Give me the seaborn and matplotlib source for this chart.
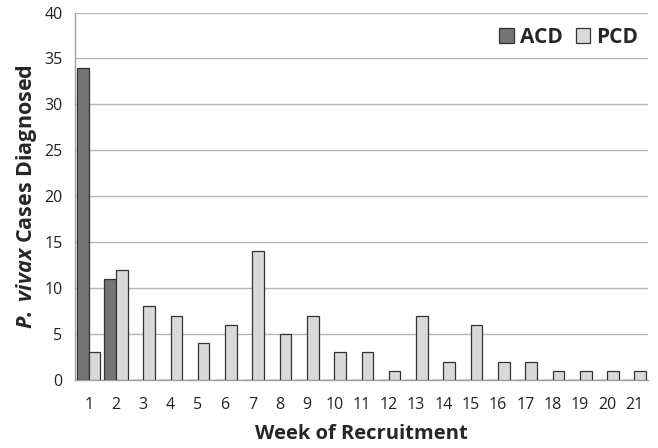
import matplotlib
matplotlib.use("Agg")
import matplotlib.pyplot as plt
import seaborn as sns
import pandas as pd
import numpy as np

weeks = [str(i) for i in range(1, 22)]
acd = [34, 11, 0, 0, 0, 0, 0, 0, 0, 0, 0, 0, 0, 0, 0, 0, 0, 0, 0, 0, 0]
pcd = [3, 12, 8, 7, 4, 6, 14, 5, 7, 3, 3, 1, 7, 2, 6, 2, 2, 1, 1, 1, 1]
series = ["ACD", "PCD"]
colors = ["#747474", "#d9d9d9"]

df = pd.DataFrame({
    "week": weeks * 2,
    "method": ["ACD"] * len(weeks) + ["PCD"] * len(weeks),
    "cases": acd + pcd,
})

sns.set_style("white")
plt.rcParams['font.family'] = ['Open Sans', 'DejaVu Sans']
plt.rcParams['mathtext.fontset'] = 'custom'
plt.rcParams['mathtext.rm'] = 'Open Sans'
plt.rcParams['mathtext.bf'] = 'Open Sans:bold'
plt.rcParams['mathtext.it'] = 'Open Sans:italic'
plt.rcParams['mathtext.bfit'] = 'Open Sans:bold:italic'

fig = plt.figure(figsize=(6.58, 4.48), dpi=100)
ax = fig.add_axes([0.114, 0.152, 0.871, 0.82])

sns.barplot(data=df, x="week", y="cases", hue="method", hue_order=series,
            palette=colors, width=0.85, edgecolor="#333333", linewidth=0.9,
            ax=ax, zorder=3)

ax.set_ylim(0, 40)
ax.set_yticks(np.arange(0, 41, 5))
ax.set_xlim(-0.5, len(weeks) - 0.5)
ax.yaxis.grid(True, color="#b5b5b5", linewidth=1.0, zorder=0)
ax.set_axisbelow(True)
for s in ["top", "right"]:
    ax.spines[s].set_visible(False)
for s in ["left", "bottom"]:
    ax.spines[s].set_color("#a0a0a0")
    ax.spines[s].set_linewidth(1.0)

ax.tick_params(axis="x", which="major", length=0, pad=12, labelsize=11.5, colors="#222222")
ax.set_xticks(np.arange(-0.5, len(weeks), 1.0), minor=True)
ax.tick_params(axis="x", which="minor", length=5, color="#a0a0a0", width=1.0, direction="out")
ax.tick_params(axis="y", which="major", length=5, color="#a0a0a0", width=1.0,
               direction="out", labelsize=11.5, pad=4, labelcolor="#222222")

ax.set_xlabel("Week of Recruitment", fontsize=14.5, fontweight="bold", labelpad=8)
ax.set_ylabel(r"$\mathbfit{P.}$ $\mathbfit{vivax}$ Cases Diagnosed", fontsize=15.5,
              fontweight="bold", labelpad=4)

leg = ax.legend(loc="upper right", frameon=False, prop={"weight": "bold", "size": 15},
                ncol=2, handlelength=0.7, handleheight=0.7, handletextpad=0.3,
                columnspacing=0.6, bbox_to_anchor=(1.005, 0.995), borderaxespad=0.2)

fig.savefig("out.png", dpi=100)
